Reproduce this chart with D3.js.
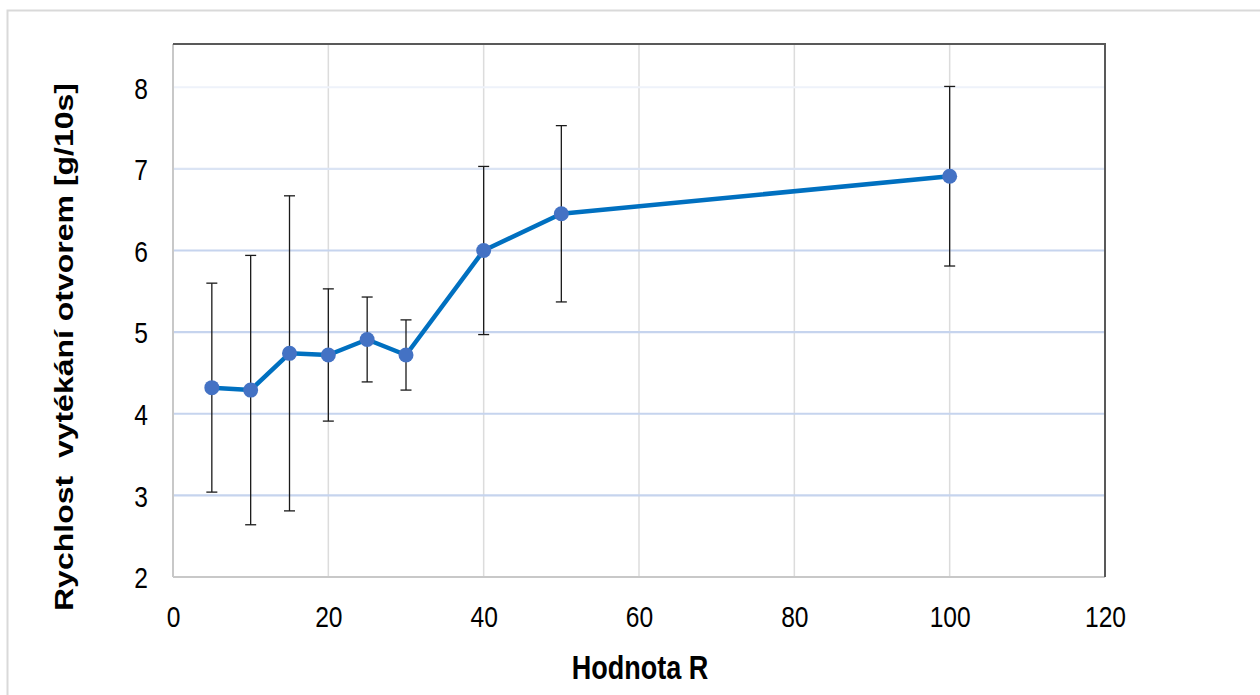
<!DOCTYPE html>
<html>
<head>
<meta charset="utf-8">
<script src="https://cdn.jsdelivr.net/npm/d3@7"></script>
<style>
  html, body { margin: 0; padding: 0; background: #fff; }
  svg { display: block; }
  text { font-family: "Liberation Sans", Arial, sans-serif; fill: #000; }
</style>
</head>
<body>
<svg id="chart" width="1260" height="695"></svg>
<script>
// ---- data ----
const rValues = [5, 10, 15, 20, 25, 30, 40, 50, 100];
const flowRates = [4.32, 4.29, 4.74, 4.72, 4.91, 4.72, 6.00, 6.45, 6.91];
const errorValues = [1.28, 1.65, 1.93, 0.81, 0.52, 0.43, 1.03, 1.08, 1.10];
const xTicks = [0, 20, 40, 60, 80, 100, 120];
const yTicks = [2, 3, 4, 5, 6, 7, 8];
const xTitle = "Hodnota R";
const yTitle = "Rychlost  vytékání otvorem [g/10s]";

// ---- layout ----
const plot = { left: 173, right: 1105, top: 44, bottom: 577 };
const sx = 0.82; // horizontal text compression seen in reference

const svg = d3.select("#chart");

// outer frame
svg.append("rect")
  .attr("x", 7.5).attr("y", 10.5)
  .attr("width", 1400).attr("height", 900)
  .attr("fill", "#fff").attr("stroke", "#d9d9d9").attr("stroke-width", 2);

const x = d3.scaleLinear().domain([0, 120]).range([plot.left, plot.right]);
const y = d3.scaleLinear().domain([2, 8.53]).range([plot.bottom, plot.top]);

// vertical gridlines
svg.append("g").selectAll("line")
  .data(xTicks.filter(t => t > 0 && t < 120))
  .join("line")
  .attr("x1", d => x(d)).attr("x2", d => x(d))
  .attr("y1", plot.top).attr("y2", plot.bottom)
  .attr("stroke", "#dcdcdc").attr("stroke-width", 1.5);

// horizontal gridlines
const hColor = d => d === 8 ? "#eef2fa" : d === 7 ? "#dbe4f4" : "#c6d4ee";
svg.append("g").selectAll("line")
  .data(yTicks.filter(t => t > 2))
  .join("line")
  .attr("x1", plot.left).attr("x2", plot.right)
  .attr("y1", d => y(d)).attr("y2", d => y(d))
  .attr("stroke", hColor).attr("stroke-width", 2.2);

// plot borders
svg.append("line").attr("x1", plot.left).attr("x2", plot.left)
  .attr("y1", plot.top).attr("y2", plot.bottom)
  .attr("stroke", "#c8c8c8").attr("stroke-width", 2);
svg.append("line").attr("x1", plot.left).attr("x2", plot.right)
  .attr("y1", plot.bottom).attr("y2", plot.bottom)
  .attr("stroke", "#c8c8c8").attr("stroke-width", 2);
svg.append("line").attr("x1", plot.left).attr("x2", plot.right + 1)
  .attr("y1", plot.top).attr("y2", plot.top)
  .attr("stroke", "#595959").attr("stroke-width", 2);
svg.append("line").attr("x1", plot.right).attr("x2", plot.right)
  .attr("y1", plot.top).attr("y2", plot.bottom)
  .attr("stroke", "#595959").attr("stroke-width", 2);

// axes labels via d3 axes (no lines)
const xAxis = svg.append("g")
  .attr("transform", `translate(0,${plot.bottom})`)
  .call(d3.axisBottom(x).tickValues(xTicks).tickSize(0).tickPadding(0).tickFormat(d3.format("d")));
xAxis.select(".domain").remove();
xAxis.selectAll("text")
  .attr("font-size", 30).attr("dy", null).attr("y", 0)
  .attr("transform", `translate(0,50) scale(${sx},1)`)
  .attr("font-family", '"Liberation Sans", Arial, sans-serif')
  .attr("fill", "#000");

const yAxis = svg.append("g")
  .attr("transform", `translate(148,0)`)
  .call(d3.axisLeft(y).tickValues(yTicks).tickSize(0).tickPadding(0).tickFormat(d3.format("d")));
yAxis.select(".domain").remove();
yAxis.selectAll(".tick text")
  .attr("font-size", 30).attr("x", 0).attr("dy", "0.36em")
  .attr("transform", `scale(${sx},1)`)
  .attr("font-family", '"Liberation Sans", Arial, sans-serif')
  .attr("fill", "#000");

// titles
svg.append("text")
  .attr("transform", `translate(640,679) scale(${sx},1)`)
  .attr("text-anchor", "middle")
  .attr("font-size", 33).attr("font-weight", "bold")
  .text(xTitle);

svg.append("text")
  .attr("transform", `translate(73,347) scale(${sx},1) rotate(-90)`)
  .attr("text-anchor", "middle")
  .attr("font-size", 32).attr("font-weight", "bold")
  .style("white-space", "pre")
  .text(yTitle);

// data
const pts = rValues.map((r, i) => ({ r, v: flowRates[i], e: errorValues[i] }));

// error bars
const eb = svg.append("g").attr("stroke", "#1a1a1a").attr("stroke-width", 1.3);
eb.selectAll("line.v").data(pts).join("line").attr("class", "v")
  .attr("x1", d => x(d.r)).attr("x2", d => x(d.r))
  .attr("y1", d => y(d.v + d.e)).attr("y2", d => y(d.v - d.e));
eb.selectAll("line.t").data(pts).join("line").attr("class", "t")
  .attr("x1", d => x(d.r) - 5.5).attr("x2", d => x(d.r) + 5.5)
  .attr("y1", d => y(d.v + d.e)).attr("y2", d => y(d.v + d.e));
eb.selectAll("line.b").data(pts).join("line").attr("class", "b")
  .attr("x1", d => x(d.r) - 5.5).attr("x2", d => x(d.r) + 5.5)
  .attr("y1", d => y(d.v - d.e)).attr("y2", d => y(d.v - d.e));

// line
svg.append("path")
  .datum(pts)
  .attr("fill", "none")
  .attr("stroke", "#0070c0")
  .attr("stroke-width", 4.5)
  .attr("stroke-linejoin", "round")
  .attr("d", d3.line().x(d => x(d.r)).y(d => y(d.v)));

// markers
svg.append("g").selectAll("circle").data(pts).join("circle")
  .attr("cx", d => x(d.r)).attr("cy", d => y(d.v))
  .attr("r", 7.5)
  .attr("fill", "#4472c4");
</script>
</body>
</html>
